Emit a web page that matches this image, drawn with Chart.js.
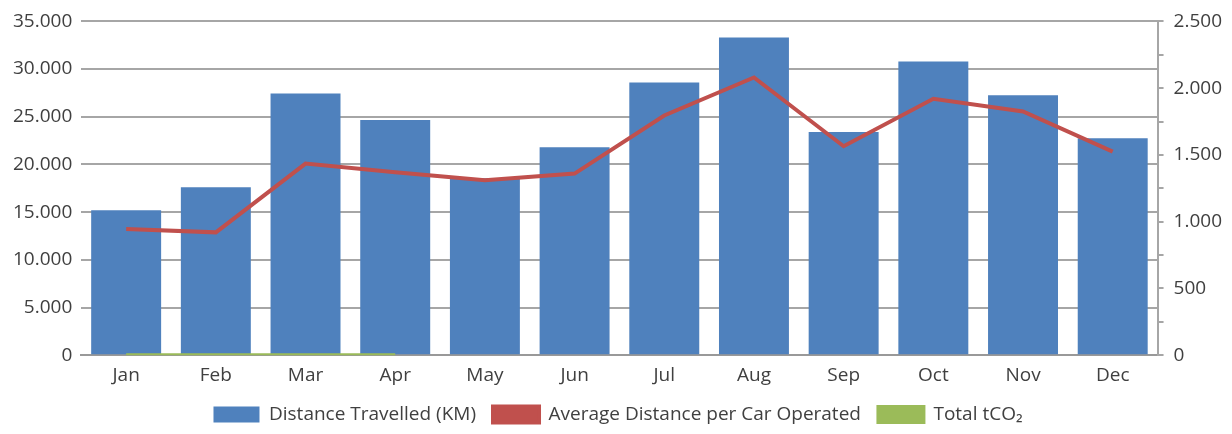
<!DOCTYPE html>
<html>
<head>
<meta charset="utf-8">
<script src="https://cdn.jsdelivr.net/npm/chart.js@4/dist/chart.umd.min.js"></script>
<style>
  html, body { margin: 0; padding: 0; background: #fff; }
  #wrap { width: 1232px; height: 434px; }
</style>
</head>
<body>
<div id="wrap"><canvas id="distanceChart"></canvas></div>
<script>
const months = ['Jan', 'Feb', 'Mar', 'Apr', 'May', 'Jun', 'Jul', 'Aug', 'Sep', 'Oct', 'Nov', 'Dec'];
const distanceKm = [15200, 17600, 27450, 24650, 18550, 21800, 28600, 33300, 23400, 30800, 27250, 22750];
const avgPerCar = [945, 920, 1435, 1370, 1310, 1360, 1795, 2080, 1565, 1920, 1825, 1525];
const totalCo2 = [40, 40, 40, 40, null, null, null, null, null, null, null, null];

const fmt = v => Number(v).toLocaleString('de-DE');
const legendOrder = [2, 0, 1];

const config = {
    data: {
        labels: months,
        datasets: [{
            type: 'line',
            label: 'Average Distance per Car Operated',
            data: avgPerCar,
            yAxisID: 'y2',
            borderColor: '#c0504d',
            backgroundColor: '#c0504d',
            borderWidth: 4,
            pointRadius: 0,
            tension: 0,
            order: 1
        }, {
            type: 'line',
            label: 'Total tCO\u2082',
            data: totalCo2,
            yAxisID: 'y',
            borderColor: '#9bbb59',
            backgroundColor: '#9bbb59',
            borderWidth: 3,
            pointRadius: 0,
            order: 2
        }, {
            type: 'bar',
            label: 'Distance Travelled (KM)',
            data: distanceKm,
            yAxisID: 'y',
            backgroundColor: '#4f81bd',
            categoryPercentage: 0.78,
            barPercentage: 1,
            order: 3
        }]
    },
    options: {
        responsive: true,
        maintainAspectRatio: false,
        animation: false,
        layout: { padding: { top: 12, right: 0, left: 4, bottom: 0 } },
        plugins: {
            legend: {
                position: 'bottom',
                labels: {
                    boxWidth: 46,
                    boxHeight: 16,
                    padding: 17,
                    color: '#404040',
                    font: { family: 'Open Sans', size: 19 },
                    sort: (a, b) => legendOrder.indexOf(a.datasetIndex) - legendOrder.indexOf(b.datasetIndex)
                }
            },
            tooltip: { enabled: false }
        },
        scales: {
            x: {
                grid: { display: false },
                border: { display: true, color: '#999', width: 2 },
                ticks: { color: '#404040', font: { family: 'Open Sans', size: 19 }, padding: 1 }
            },
            y: {
                position: 'left',
                min: 0,
                max: 35000,
                ticks: { stepSize: 5000, color: '#404040', font: { family: 'Open Sans', size: 19 }, padding: 9, callback: v => fmt(v) },
                grid: { color: '#a6a6a6', lineWidth: 2, tickLength: 0 },
                border: { display: false }
            },
            y2: {
                position: 'right',
                min: 0,
                max: 2500,
                ticks: {
                    stepSize: 250,
                    color: '#404040',
                    font: { family: 'Open Sans', size: 19 },
                    padding: 10,
                    callback: v => (v % 500 === 0 ? fmt(v) : '')
                },
                grid: { drawOnChartArea: false, color: '#a6a6a6', lineWidth: 2, tickLength: 6 },
                border: { display: true, color: '#a6a6a6', width: 2 }
            }
        }
    }
};
new Chart(document.getElementById('distanceChart'), config);
</script>
</body>
</html>
